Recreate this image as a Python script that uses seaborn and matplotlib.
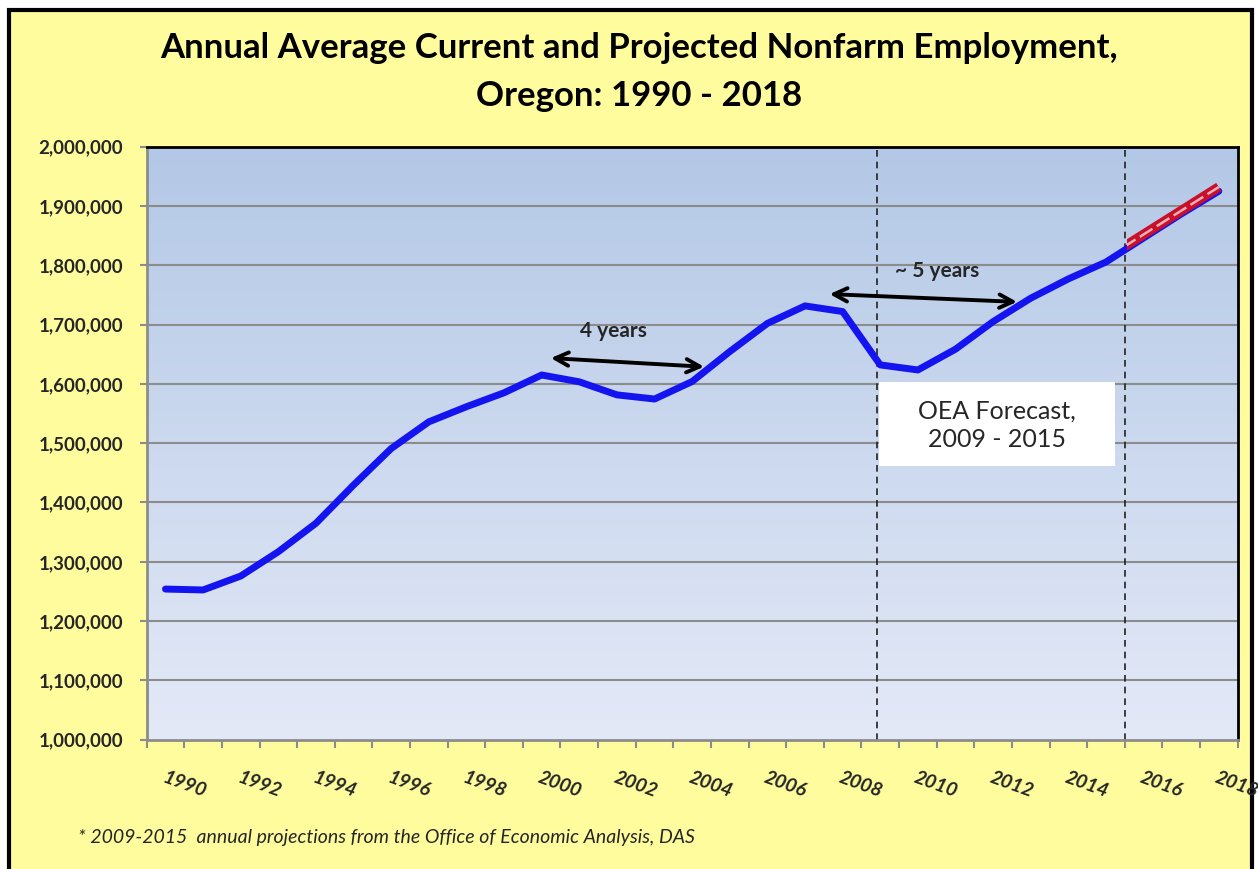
import numpy as np
import pandas as pd
import matplotlib.pyplot as plt
import seaborn as sns
from matplotlib.patches import Rectangle

years = list(range(1990, 2019))
employment = [1254000, 1252500, 1276000, 1317000, 1365000, 1429500, 1491000, 1536000,
              1561500, 1585000, 1615000, 1603500, 1581500, 1574500, 1604000, 1654500,
              1702000, 1731500, 1722000, 1632000, 1623500, 1658500, 1705000, 1744500,
              1777000, 1805500, 1846000, 1886500, 1925000]
proj_years = [2015, 2016, 2017, 2018]
proj_values = [1812000, 1852000, 1892000, 1932000]
label_years = list(range(1990, 2019, 2))
y_ticks = list(range(1000000, 2000001, 100000))

df = pd.DataFrame({'year': years, 'jobs': employment})
proj = pd.DataFrame({'year': proj_years, 'jobs': proj_values})

sns.set_style('white')
plt.rcParams['font.family'] = ['Lato', 'DejaVu Sans']

fig = plt.figure(figsize=(12.58, 8.69), dpi=100)
fig.patch.set_facecolor('white')
fig.patches.append(Rectangle((0.007, -0.02), 0.988, 1.009, transform=fig.transFigure,
                             facecolor='#FFFC9E', edgecolor='black', linewidth=3, zorder=-10))

ax = fig.add_axes([0.1166, 0.1488, 0.8672, 0.6824])
ax.set_facecolor('none')

# gradient plot background
grad = np.linspace(0, 1, 256).reshape(-1, 1)
cmap = sns.blend_palette(['#B3C8E6', '#E4E9F7'], as_cmap=True)
ax.imshow(grad, aspect='auto', cmap=cmap, extent=[0, 1, 0, 1], transform=ax.transAxes, zorder=0)

ax.set_xlim(1989.5, 2018.5)
ax.set_ylim(1000000, 2000000)

for yv in y_ticks[1:-1]:
    ax.axhline(yv, color='#8C8C8C', lw=1.5, zorder=1)

ax.axvline(2008.92, color='#222222', lw=1.2, ls=(0, (4, 3)), zorder=2)
ax.axvline(2015.5, color='#222222', lw=1.2, ls=(0, (4, 3)), zorder=2)

sns.lineplot(data=df, x='year', y='jobs', color='#1414F0', lw=5, ax=ax, zorder=3)

# red projection overlay, starting at the forecast boundary
sns.lineplot(data=proj, x='year', y='jobs', color='#C8102A', lw=7, ax=ax, zorder=4)
clip = Rectangle((2015.55, 1000000), 10, 1000000, transform=ax.transData)
red = ax.lines[-1]
red.set_clip_path(clip)
red.set_solid_capstyle('butt')
wline, = ax.plot(proj['year'], proj['jobs'], color='#F2B0B4', lw=1.8, ls=(0, (6, 2)), zorder=5)
wline.set_clip_path(clip)

# annotations
ax.annotate('', xy=(2000.17, 1643800), xytext=(2004.39, 1628600),
            arrowprops=dict(arrowstyle='<->', color='black', lw=2.8, mutation_scale=24), zorder=6)
ax.text(2001.9, 1690000, '4 years', ha='center', va='center', fontsize=15, fontweight='bold')
ax.annotate('', xy=(2007.58, 1751600), xytext=(2012.71, 1738100),
            arrowprops=dict(arrowstyle='<->', color='black', lw=2.8, mutation_scale=24), zorder=6)
ax.text(2010.5, 1790000, '~ 5 years', ha='center', va='center', fontsize=15, fontweight='bold')

ax.add_patch(Rectangle((2008.97, 1461500), 6.27, 141700, facecolor='white', edgecolor='none', zorder=6))
ax.text(2012.1, 1530000, 'OEA Forecast,\n2009 - 2015', ha='center', va='center',
        fontsize=18, linespacing=1.25, zorder=7)

# axes styling
for side in ['left', 'bottom']:
    ax.spines[side].set_color('#8C8C8C')
    ax.spines[side].set_linewidth(2)
for side in ['top', 'right']:
    ax.spines[side].set_color('black')
    ax.spines[side].set_linewidth(2)

ax.set_yticks(y_ticks)
ax.set_yticklabels([f'{v:,}' for v in y_ticks], fontsize=13.5, fontweight='bold')
ax.tick_params(axis='y', length=5, width=1.5, color='#8C8C8C', pad=12, left=True)

ax.set_xticks(np.arange(1989.5, 2019, 1))
ax.set_xticklabels([])
ax.tick_params(axis='x', which='major', length=6, width=1.5, color='#8C8C8C', bottom=True)
ax.set_xticks(label_years, minor=True)
ax.set_xticklabels([str(y) for y in label_years], minor=True, rotation=-20, ha='left',
                   rotation_mode='anchor', fontsize=14, fontweight='bold', fontstyle='italic')
ax.tick_params(axis='x', which='minor', length=0, pad=21)

ax.set_xlabel('')
ax.set_ylabel('')
ax.grid(False)

fig.text(0.508, 0.945, 'Annual Average Current and Projected Nonfarm Employment,', ha='center',
         va='center', fontsize=25, fontweight='bold', color='black')
fig.text(0.508, 0.890, 'Oregon: 1990 - 2018', ha='center', va='center', fontsize=25,
         fontweight='bold', color='black')
fig.text(0.062, 0.036, '* 2009-2015  annual projections from the Office of Economic Analysis, DAS',
         ha='left', va='center', fontsize=14, fontstyle='italic')

fig.savefig('out.png', dpi=100)
